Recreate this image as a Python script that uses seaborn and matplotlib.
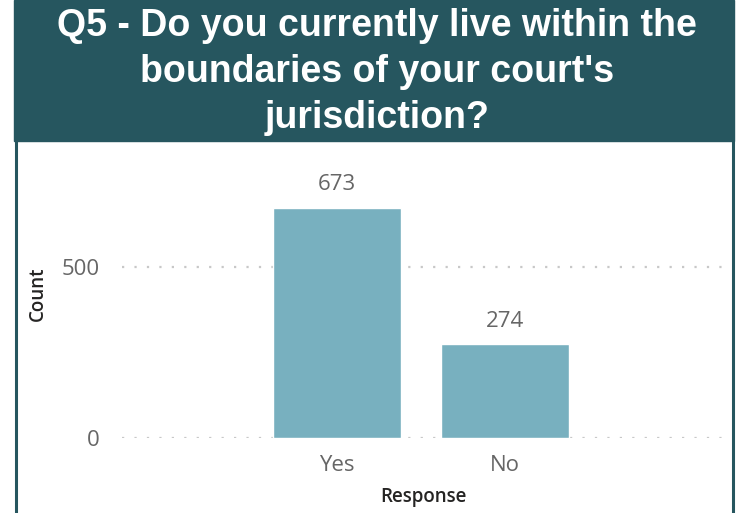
import matplotlib
matplotlib.use("Agg")
import matplotlib.pyplot as plt
from matplotlib.patches import Rectangle
from matplotlib.lines import Line2D
import seaborn as sns
import pandas as pd

# Survey responses
responses = ["Yes", "No"]
counts = [673, 274]
y_ticks = [0, 500]
title = "Q5 - Do you currently live within the\nboundaries of your court's\njurisdiction?"

HEADER = "#26565F"
BAR = "#78B0BF"
TICK = "#666666"

sns.set_theme(style="white")
plt.rcParams["font.family"] = ["Open Sans", "DejaVu Sans"]

W, H = 743, 513
fig = plt.figure(figsize=(W / 100, H / 100), dpi=100)

def fx(px):
    return px / W

def fy(py):
    return 1 - py / H

# header band and frame
fig.patches.append(Rectangle((fx(14), fy(141)), fx(734) - fx(14), fy(0) - fy(141),
                             transform=fig.transFigure, color=HEADER, zorder=0))
for xpx in (15.5, 732.5):
    fig.lines.append(Line2D([fx(xpx), fx(xpx)], [fy(141), 0], transform=fig.transFigure,
                            color=HEADER, linewidth=2.2))

fig.text(fx(377), fy(72), title, ha="center", va="center", color="white",
         fontsize=27, fontweight="bold", family="Liberation Sans", linespacing=1.36)

# plot area
x_left, x_right, y_top, y_zero = 122, 725, 150, 438
ax = fig.add_axes([fx(x_left), fy(y_zero), fx(x_right) - fx(x_left), fy(y_top) - fy(y_zero)])
df = pd.DataFrame({"Response": responses, "Count": counts})
sns.barplot(data=df, x="Response", y="Count", color=BAR, saturation=1, width=0.76, ax=ax, zorder=2)

px_per_unit = (438 - 267) / 500
ax.set_ylim(0, (y_zero - y_top) / px_per_unit)
ax.set_xlim(-1.28, 2.31)
ax.set_yticks(y_ticks)
ax.set_yticklabels([str(t) for t in y_ticks])
for t in y_ticks:
    ax.axhline(t, color="#C8C8C8", linewidth=1.6, linestyle=(0, (1, 4.6)), zorder=1)

for i, v in enumerate(counts):
    ax.annotate(str(v), (i, v), xytext=(0, 9), textcoords="offset points",
                ha="center", va="bottom", fontsize=16, color=TICK)

for s in ax.spines.values():
    s.set_visible(False)
ax.tick_params(axis="both", length=0, labelsize=16, labelcolor=TICK)
ax.tick_params(axis="y", pad=16)
ax.tick_params(axis="x", pad=12)
ax.set_xlabel("Response", fontsize=13.5, fontweight="semibold", color="#252423", labelpad=8)
ax.set_ylabel("Count", fontsize=13.5, fontweight="semibold", color="#252423", labelpad=10)

fig.savefig("out.png", dpi=100, facecolor="white")
